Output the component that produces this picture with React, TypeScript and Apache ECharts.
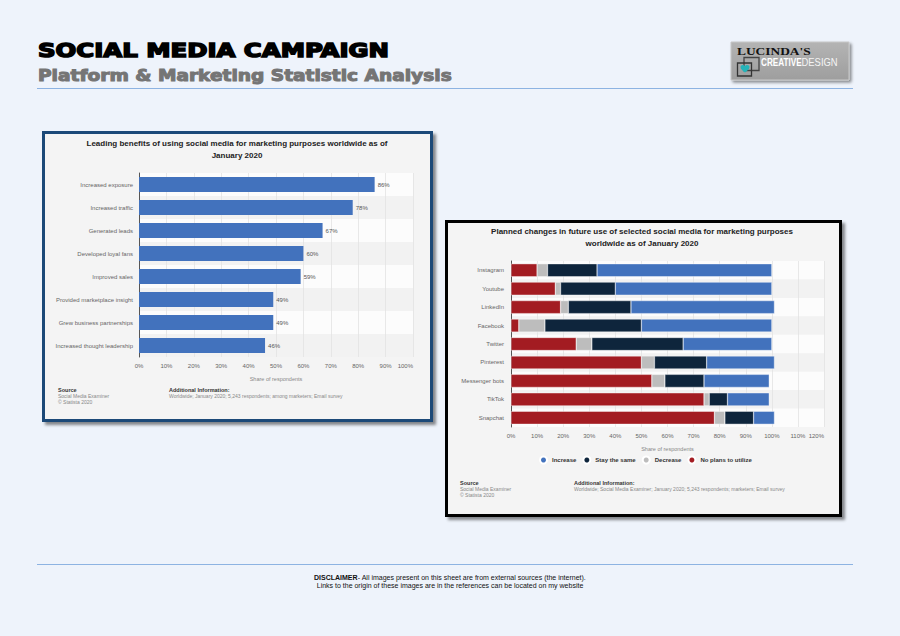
import React, { useEffect, useRef } from "react";
import * as echarts from "echarts";

const benefitCategories = [
  "Increased exposure",
  "Increased traffic",
  "Generated leads",
  "Developed loyal fans",
  "Improved sales",
  "Provided marketplace insight",
  "Grew business partnerships",
  "Increased thought leadership",
];
const benefitValues = [86, 78, 67, 60, 59, 49, 49, 46];

const platforms = [
  "Instagram",
  "Youtube",
  "LinkedIn",
  "Facebook",
  "Twitter",
  "Pinterest",
  "Messenger bots",
  "TikTok",
  "Snapchat",
];
const noPlansValues = [10, 17, 19, 3, 25, 50, 54, 74, 78];
const decreaseValues = [4, 2, 3, 10, 6, 5, 5, 2, 4];
const stayValues = [19, 21, 24, 37, 35, 20, 15, 7, 11];
const increaseValues = [67, 60, 55, 50, 34, 26, 25, 16, 8];

const legendNames = ["Increase", "Stay the same", "Decrease", "No plans to utilize"];

const FONT = "'Liberation Sans', Arial, sans-serif";
const BLUE = "#4272bd";
const NAVY = "#0e253c";
const GREY = "#bdbdbd";
const RED = "#a31c22";

function txt(x: number, y: number, text: string, extra: any = {}, elExtra: any = {}) {
  const align = extra.align || "left";
  const va = extra.verticalAlign || "middle";
  return {
    type: "text",
    x,
    y,
    z: 10,
    ...elExtra,
    style: {
      text,
      fontFamily: FONT,
      fontSize: 6,
      fill: "#333",
      ...extra,
      align,
      verticalAlign: va,
      textAlign: align,
      textVerticalAlign: va,
    },
  };
}

export default function App() {
  const ref = useRef<HTMLDivElement>(null);
  useEffect(() => {
    if (!ref.current) return;
    try {
      echarts.graphic.registerShape(
        "heart",
        echarts.graphic.extendPath(
          "M5,10 C3,8 0,6 0,3 C0,0.5 3.5,-0.5 5,2 C6.5,-0.5 10,0.5 10,3 C10,6 7,8 5,10 Z",
          {}
        )
      );
    } catch (e) {}
    const chart = echarts.init(ref.current, undefined, { renderer: "svg" });

    const axisLabelStyle = { fontSize: 6, color: "#666", fontFamily: FONT };

    const option: any = {
      animation: false,
      backgroundColor: "#eef3fb",
      textStyle: { fontFamily: FONT },
      grid: [
        { left: 139, top: 173, width: 274, height: 184 },
        { left: 511, top: 261, width: 313, height: 166 },
      ],
      xAxis: [
        {
          gridIndex: 0,
          type: "value",
          min: 0,
          max: 100,
          interval: 10,
          axisLine: { show: false },
          axisTick: { show: false },
          splitLine: { show: true, lineStyle: { color: "#e2e2e2", width: 0.8 } },
          axisLabel: { ...axisLabelStyle, formatter: "{value}%", margin: 6, alignMaxLabel: "right" },
          name: "Share of respondents",
          nameLocation: "middle",
          nameGap: 19,
          nameTextStyle: { fontSize: 5.5, color: "#888", fontFamily: FONT },
        },
        {
          gridIndex: 1,
          type: "value",
          min: 0,
          max: 120,
          interval: 10,
          axisLine: { show: false },
          axisTick: { show: false },
          splitLine: { show: true, lineStyle: { color: "#e2e2e2", width: 0.8 } },
          axisLabel: { ...axisLabelStyle, formatter: "{value}%", margin: 6, alignMaxLabel: "right" },
          name: "Share of respondents",
          nameLocation: "middle",
          nameGap: 19,
          nameTextStyle: { fontSize: 5.5, color: "#888", fontFamily: FONT },
        },
      ],
      yAxis: [
        {
          gridIndex: 0,
          type: "category",
          data: benefitCategories,
          inverse: true,
          axisLine: { show: true, lineStyle: { color: "#555", width: 1 } },
          axisTick: { show: false },
          splitArea: { show: true, areaStyle: { color: ["rgba(255,255,255,0.75)", "rgba(240,240,240,0.6)"] } },
          axisLabel: { ...axisLabelStyle, margin: 6 },
        },
        {
          gridIndex: 1,
          type: "category",
          data: platforms,
          inverse: true,
          axisLine: { show: true, lineStyle: { color: "#555", width: 1 } },
          axisTick: { show: false },
          splitArea: { show: true, areaStyle: { color: ["rgba(255,255,255,0.75)", "rgba(240,240,240,0.6)"] } },
          axisLabel: { ...axisLabelStyle, margin: 7 },
        },
      ],
      legend: {
        data: legendNames,
        left: 539,
        top: 455.5,
        padding: 0,
        icon: "circle",
        itemWidth: 7,
        itemHeight: 7,
        itemGap: 6,
        textStyle: { fontSize: 6, fontWeight: "bold", color: "#333", fontFamily: FONT },
        selectedMode: false,
      },
      series: [
        {
          name: "Benefits",
          type: "bar",
          xAxisIndex: 0,
          yAxisIndex: 0,
          data: benefitValues,
          barWidth: 15,
          itemStyle: { color: BLUE },
          label: {
            show: true,
            position: "right",
            formatter: "{c}%",
            fontSize: 6,
            color: "#555",
            distance: 3,
          },
        },
        {
          name: "No plans to utilize",
          type: "bar",
          stack: "plan",
          xAxisIndex: 1,
          yAxisIndex: 1,
          data: noPlansValues,
          barWidth: 13,
          itemStyle: { color: RED, borderColor: "#fff", borderWidth: 0.4 },
        },
        {
          name: "Decrease",
          type: "bar",
          stack: "plan",
          xAxisIndex: 1,
          yAxisIndex: 1,
          data: decreaseValues,
          barWidth: 13,
          itemStyle: { color: GREY, borderColor: "#fff", borderWidth: 0.4 },
        },
        {
          name: "Stay the same",
          type: "bar",
          stack: "plan",
          xAxisIndex: 1,
          yAxisIndex: 1,
          data: stayValues,
          barWidth: 13,
          itemStyle: { color: NAVY, borderColor: "#fff", borderWidth: 0.4 },
        },
        {
          name: "Increase",
          type: "bar",
          stack: "plan",
          xAxisIndex: 1,
          yAxisIndex: 1,
          data: increaseValues,
          barWidth: 13,
          itemStyle: { color: BLUE, borderColor: "#fff", borderWidth: 0.4 },
        },
      ],
      graphic: [
        // header
        txt(38, 50, "SOCIAL MEDIA CAMPAIGN", {
          fontFamily: "'DejaVu Sans', sans-serif",
          fontWeight: "bold",
          fontSize: 19,
          fill: "#000",
          stroke: "#000",
          lineWidth: 1.5,
        }, { scaleX: 1.285 }),
        txt(38, 76, "Platform & Marketing Statistic Analysis", {
          fontFamily: "'DejaVu Sans', sans-serif",
          fontWeight: "bold",
          fontSize: 15,
          fill: "#757575",
          stroke: "#757575",
          lineWidth: 1,
        }, { scaleX: 1.24 }),
        {
          type: "line",
          z: 5,
          shape: { x1: 37, y1: 88.5, x2: 853, y2: 88.5 },
          style: { stroke: "#8db3e2", lineWidth: 1 },
        },
        {
          type: "line",
          z: 5,
          shape: { x1: 37, y1: 564.5, x2: 853, y2: 564.5 },
          style: { stroke: "#8db3e2", lineWidth: 1 },
        },
        // logo
        {
          type: "rect",
          z: 5,
          shape: { x: 731, y: 42, width: 118, height: 38 },
          style: {
            fill: new echarts.graphic.LinearGradient(0, 0, 0, 1, [
              { offset: 0, color: "#b4b4b4" },
              { offset: 1, color: "#9e9e9e" },
            ]),
            stroke: "#c8c8c8",
            lineWidth: 1,
            shadowBlur: 3,
            shadowOffsetX: 2,
            shadowOffsetY: 2,
            shadowColor: "rgba(0,0,0,0.45)",
          },
        },
        txt(737, 51, "LUCINDA'S", {
          fontFamily: "'Liberation Serif', 'DejaVu Serif', serif",
          fontWeight: "bold",
          fontSize: 11,
          fill: "#111",
        }, { scaleX: 1.22 }),
        txt(761, 62, "CREATIVE", {
          fontFamily: "'Liberation Sans', sans-serif",
          fontWeight: "bold",
          fontSize: 10.5,
          fill: "#fff",
        }, { scaleX: 0.78 }),
        txt(801.5, 62, "DESIGN", {
          fontFamily: "'Liberation Sans', sans-serif",
          fontWeight: "normal",
          fontSize: 10.5,
          fill: "#f4f4f4",
        }, { scaleX: 0.9 }),
        {
          type: "rect",
          z: 11,
          shape: { x: 744, y: 57.5, width: 15, height: 13 },
          style: { fill: "none", stroke: "#444", lineWidth: 1.3 },
        },
        {
          type: "rect",
          z: 11,
          shape: { x: 737.5, y: 63, width: 14, height: 13 },
          style: { fill: "none", stroke: "#333", lineWidth: 1.3 },
        },
        {
          type: "heart",
          z: 12,
          x: 740.5,
          y: 64.5,
          scaleX: 0.9,
          scaleY: 0.8,
          style: { fill: "#25b3b8" },
        },
        // left panel
        {
          type: "rect",
          z: -10,
          shape: { x: 43.5, y: 132.5, width: 388, height: 288 },
          style: {
            fill: "#f4f4f4",
            stroke: "#1f4a78",
            lineWidth: 3,
            shadowBlur: 3,
            shadowOffsetX: 3,
            shadowOffsetY: 3,
            shadowColor: "rgba(0,0,0,0.45)",
          },
        },
        txt(237, 143, "Leading benefits of using social media for marketing purposes worldwide as of", {
          align: "center",
          fontWeight: "bold",
          fontSize: 8,
          fill: "#222",
        }),
        txt(237, 155.5, "January 2020", {
          align: "center",
          fontWeight: "bold",
          fontSize: 8,
          fill: "#222",
        }),
        txt(58, 389.5, "Source", { fontSize: 5.5, fill: "#333", fontWeight: "bold" }),
        txt(58, 396, "Social Media Examiner", { fontSize: 5, fill: "#888" }),
        txt(58, 402, "© Statista 2020", { fontSize: 5, fill: "#888" }),
        txt(169, 389.5, "Additional Information:", { fontSize: 5.5, fill: "#333", fontWeight: "bold" }),
        txt(169, 396, "Worldwide; January 2020; 5,243 respondents; among marketers; Email survey", {
          fontSize: 5,
          fill: "#888",
        }),
        // right panel
        {
          type: "rect",
          z: -10,
          shape: { x: 446.5, y: 221.5, width: 394, height: 294 },
          style: {
            fill: "#f4f4f4",
            stroke: "#000",
            lineWidth: 3,
            shadowBlur: 3,
            shadowOffsetX: 3,
            shadowOffsetY: 3,
            shadowColor: "rgba(0,0,0,0.45)",
          },
        },
        txt(642, 231, "Planned changes in future use of selected social media for marketing purposes", {
          align: "center",
          fontWeight: "bold",
          fontSize: 8,
          fill: "#222",
        }),
        txt(642, 243.5, "worldwide as of January 2020", {
          align: "center",
          fontWeight: "bold",
          fontSize: 8,
          fill: "#222",
        }),
        txt(460, 482.5, "Source", { fontSize: 5.5, fill: "#333", fontWeight: "bold" }),
        txt(460, 489, "Social Media Examiner", { fontSize: 5, fill: "#888" }),
        txt(460, 495, "© Statista 2020", { fontSize: 5, fill: "#888" }),
        txt(574, 482.5, "Additional Information:", { fontSize: 5.5, fill: "#333", fontWeight: "bold" }),
        txt(574, 489, "Worldwide; Social Media Examiner; January 2020; 5,243 respondents; marketers; Email survey", {
          fontSize: 5,
          fill: "#888",
        }),
        // disclaimer
        {
          type: "text",
          x: 450,
          y: 577,
          z: 10,
          style: {
            text: "{b|DISCLAIMER}- All images present on this sheet are from external sources (the internet).",
            rich: { b: { fontWeight: "bold", fontSize: 7, fontFamily: FONT, fill: "#111" } },
            fontFamily: FONT,
            fontSize: 7,
            fill: "#111",
            align: "center",
            verticalAlign: "middle",
            textAlign: "center",
            textVerticalAlign: "middle",
          },
        },
        txt(450, 585.5, "Links to the origin of these images are in the references can be located on my website", {
          align: "center",
          fontSize: 7,
          fill: "#111",
        }),
      ],
    };

    chart.setOption(option);
    return () => chart.dispose();
  }, []);

  return (
    <div
      ref={ref}
      style={{ position: "fixed", left: 0, top: 0, width: 900, height: 636, background: "#eef3fb" }}
    />
  );
}
